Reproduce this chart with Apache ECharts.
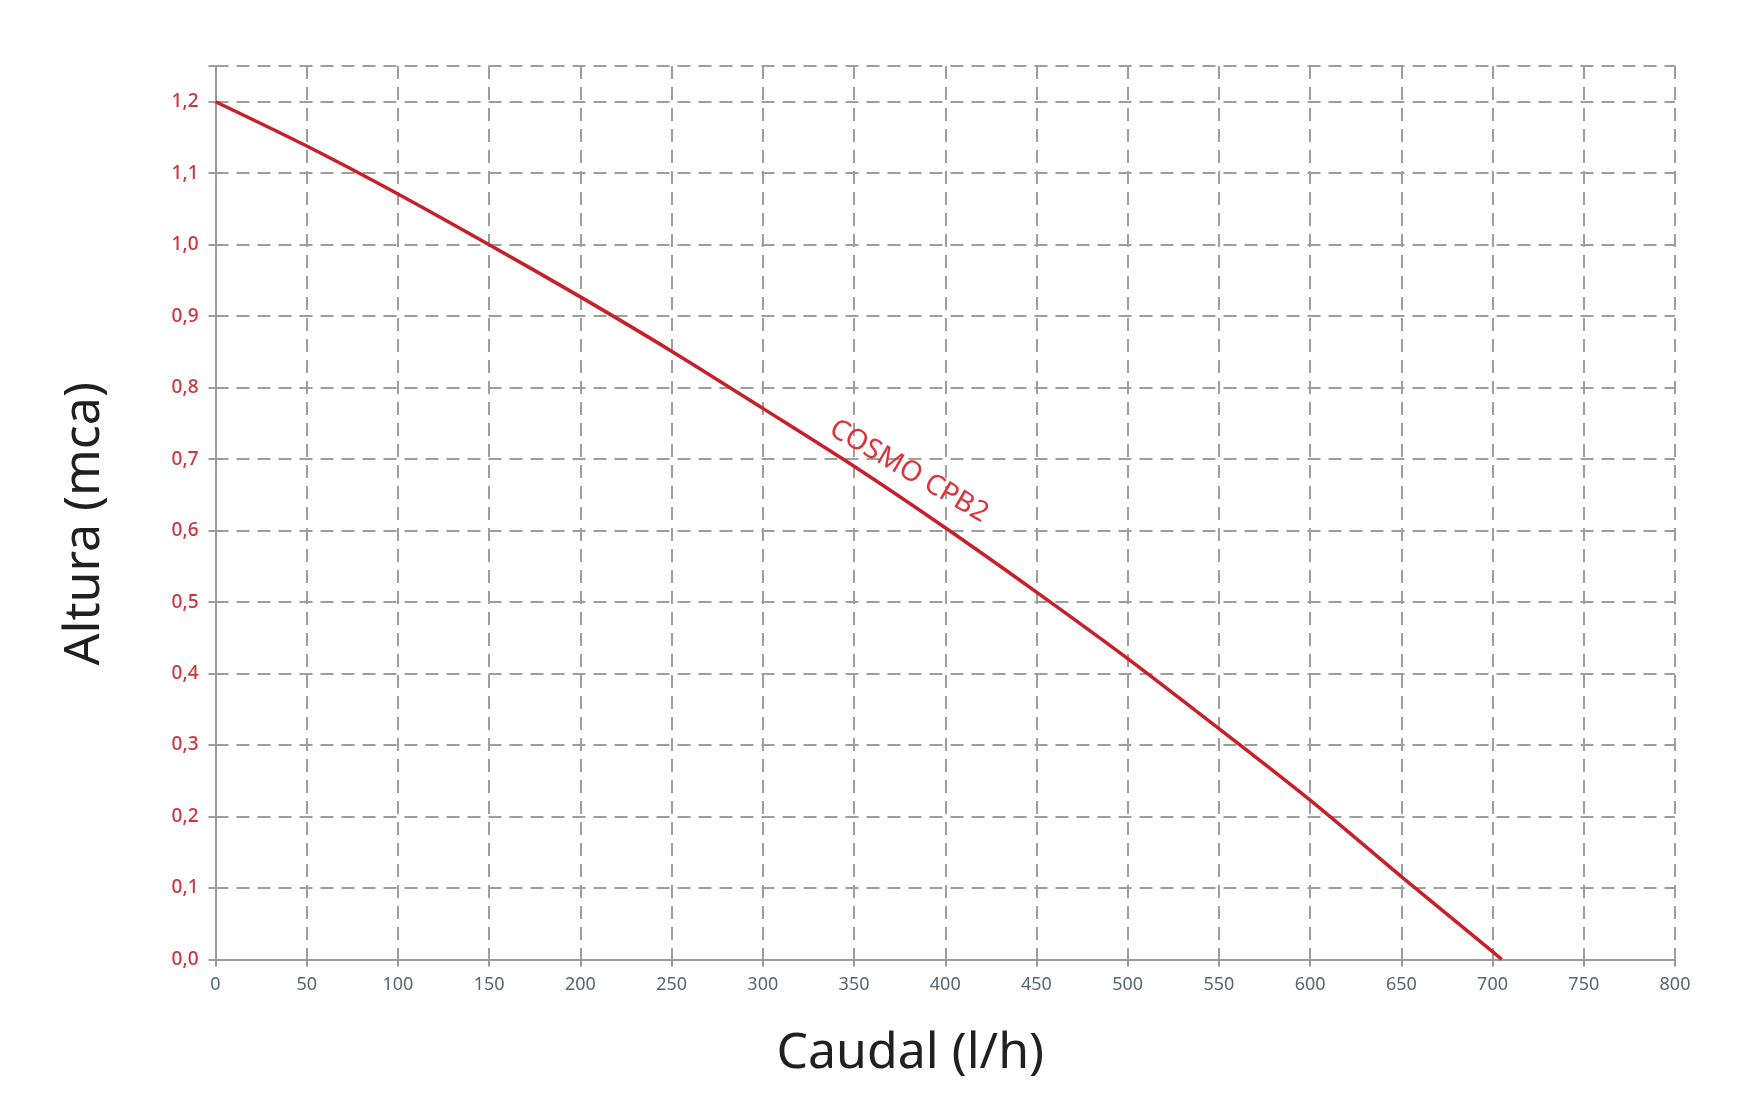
<!DOCTYPE html>
<html>
<head>
<meta charset="utf-8">
<script src="https://cdn.jsdelivr.net/npm/echarts@6/dist/echarts.min.js"></script>
<style>
html,body{margin:0;padding:0;background:#fff;}
#chart{width:1754px;height:1113px;}
</style>
</head>
<body>
<div id="chart"></div>
<script>
// Data
const caudal = [0, 50, 100, 150, 200, 250, 300, 350, 400, 450, 500, 550, 600, 650, 700, 705];
const altura = [1.2, 1.138, 1.071, 1.0, 0.927, 0.851, 0.771, 0.69, 0.604, 0.514, 0.421, 0.323, 0.223, 0.116, 0.011, 0];
const seriesName = 'COSMO CPB2';
const labelAnchor = [380, 0.683];
const xTitle = 'Caudal (l/h)';
const yTitle = 'Altura (mca)';

const chart = echarts.init(document.getElementById('chart'), null, {renderer: 'canvas'});
const gridLine = {show: true, lineStyle: {color: '#9e9e9e', width: 2, type: [13, 8]}};
const option = {
  backgroundColor: '#ffffff',
  animation: false,
  grid: {left: 215.5, right: 79, top: 66, bottom: 153.5, containLabel: false},
  xAxis: {
    type: 'value', min: 0, max: 800, interval: 50,
    name: xTitle, nameLocation: 'middle', nameGap: 69,
    nameTextStyle: {fontFamily: 'Noto Sans', fontSize: 50, color: '#231f20', padding: [0, 70, 0, 0]},
    axisLine: {show: true, lineStyle: {color: '#9a9a9a', width: 2}},
    axisTick: {show: true, length: 7, lineStyle: {color: '#9a9a9a', width: 2}},
    axisLabel: {margin: 16, fontFamily: 'Noto Sans', fontSize: 18, color: '#5b6472'},
    splitLine: gridLine
  },
  yAxis: {
    type: 'value', min: 0, max: 1.25, interval: 0.1,
    name: yTitle, nameLocation: 'middle', nameGap: 106, nameRotate: 90,
    nameTextStyle: {fontFamily: 'Noto Sans', fontSize: 50, color: '#231f20', padding: [0, 22, 0, 0]},
    axisLine: {show: true, lineStyle: {color: '#9a9a9a', width: 2}},
    axisTick: {show: true, length: 7, lineStyle: {color: '#9e9e9e', width: 2}},
    axisLabel: {
      margin: 17, fontFamily: 'Noto Sans', fontSize: 19, fontWeight: 500, color: '#d0333d',
      formatter: function (v) {
        const r = Math.round(v * 10);
        if (Math.abs(v * 10 - r) > 1e-6) return '';
        return (r / 10).toFixed(1).replace('.', ',');
      }
    },
    splitLine: gridLine
  },
  series: [{
    name: seriesName,
    type: 'line',
    data: caudal.map((x, i) => [x, altura[i]]),
    smooth: 0.3,
    symbol: 'none',
    lineStyle: {color: '#c8202a', width: 3.5},
    markPoint: {
      symbol: 'rect',
      symbolSize: 1,
      itemStyle: {color: 'rgba(0,0,0,0)'},
      data: [{coord: labelAnchor, value: seriesName}],
      label: {
        show: true, formatter: seriesName, rotate: -30,
        fontFamily: 'Noto Sans', fontSize: 28, color: '#d9343c',
        position: 'inside'
      }
    }
  }]
};
chart.setOption(option);
</script>
</body>
</html>
